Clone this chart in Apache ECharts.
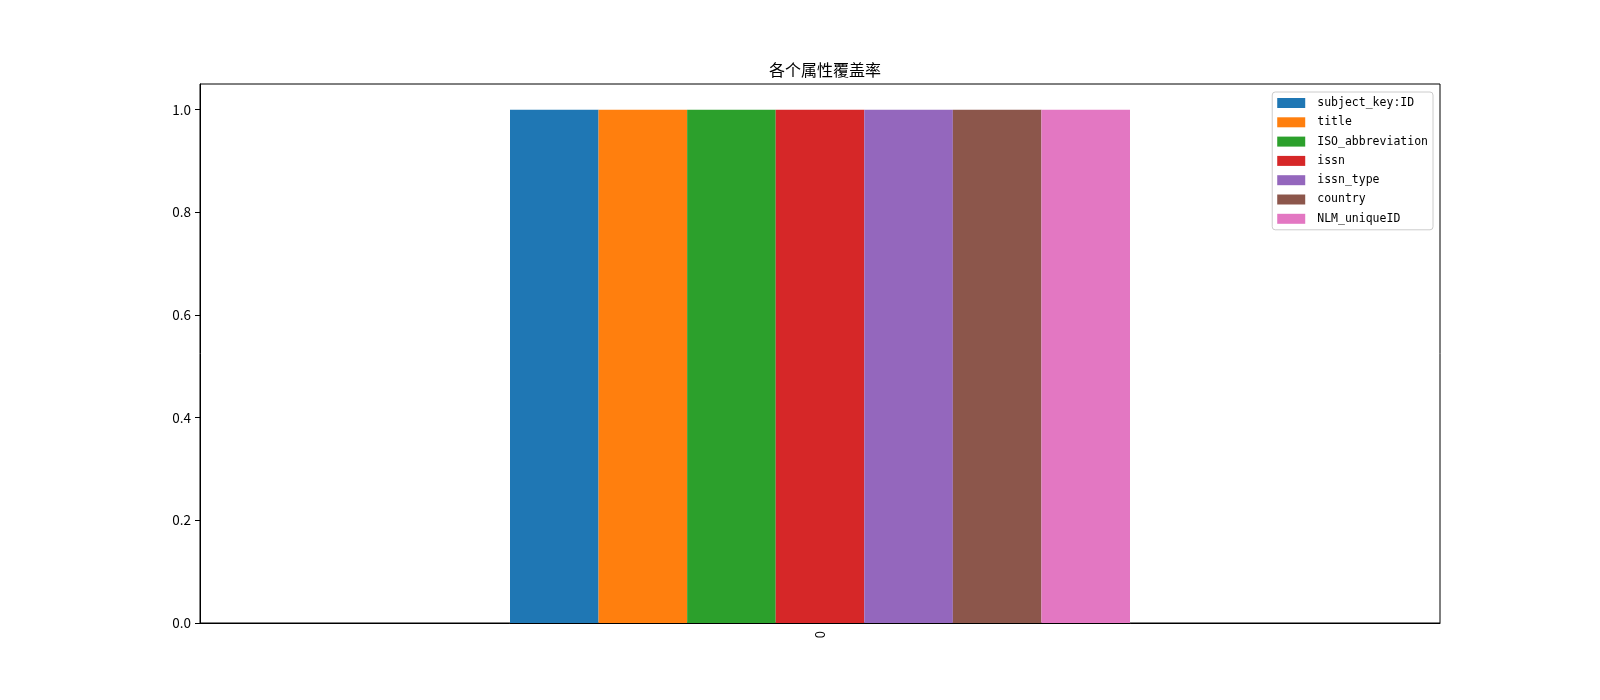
<!DOCTYPE html>
<html><head><meta charset="utf-8">
<script src="https://cdn.jsdelivr.net/npm/echarts@6/dist/echarts.min.js"></script>
<style>html,body{margin:0;padding:0;background:#fff}#c{width:1600px;height:700px}</style>
</head><body><div id="c"></div>
<script>
const categories = ['0'];
const seriesNames = ['subject_key:ID','title','ISO_abbreviation','issn','issn_type','country','NLM_uniqueID'];
const seriesValues = [[1.0],[1.0],[1.0],[1.0],[1.0],[1.0],[1.0]];
const colors = ['#1f77b4','#ff7f0e','#2ca02c','#d62728','#9467bd','#8c564b','#e377c2'];
const yTicks = [0.0,0.2,0.4,0.6,0.8,1.0];
const titleText = '各个属性覆盖率';
const FONT = '"Noto Sans CJK SC", sans-serif';
const chart = echarts.init(document.getElementById('c'));
chart.setOption({
  animation:false,
  backgroundColor:'#fff',
  title:{text:titleText,left:820,textAlign:'center',top:57,textStyle:{fontFamily:FONT,fontSize:16,fontWeight:'normal',color:'#000'}},
  legend:{orient:'vertical',right:167,top:92,padding:[5,5,5,5],itemWidth:28,itemHeight:10,itemGap:7.3,
    backgroundColor:'#fff',borderColor:'#ccc',borderWidth:1,borderRadius:3,icon:'rect',
    textStyle:{fontFamily:'"DejaVu Sans Mono", monospace',fontSize:11.5,color:'#000',padding:[0,0,0,7]},
    data:seriesNames},
  grid:{left:200,right:160,top:84,bottom:77,show:true,borderColor:'#000',borderWidth:1,containLabel:false},
  xAxis:{type:'category',data:categories,boundaryGap:true,
    axisLine:{lineStyle:{color:'#000',width:1}},
    axisTick:{alignWithLabel:true,length:5,lineStyle:{color:'#000'}},
    axisLabel:{rotate:90,margin:8,fontFamily:FONT,fontSize:13,color:'#000'}},
  yAxis:{type:'value',min:0,max:1.05,splitLine:{show:false},
    axisLine:{show:true,lineStyle:{color:'#000',width:1}},
    axisTick:{show:true,length:5,lineStyle:{color:'#000'},customValues:yTicks},
    axisLabel:{margin:9,fontFamily:FONT,fontSize:13.5,color:'#000',customValues:yTicks,formatter:v=>v.toFixed(1)}},
  series:seriesNames.map((n,i)=>({name:n,type:'bar',data:seriesValues[i],barGap:'0%',barCategoryGap:'50%',itemStyle:{color:colors[i]}}))
});
</script></body></html>
